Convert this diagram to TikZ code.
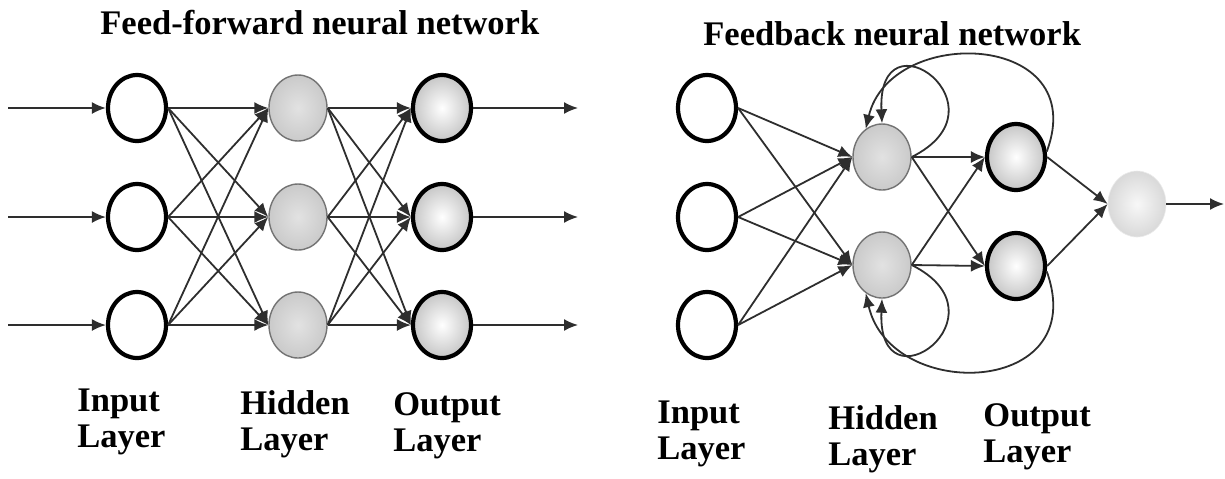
\documentclass[tikz,border=0pt]{standalone}
\usepackage{fontspec}
\setmainfont{Liberation Serif}
\usetikzlibrary{shapes.geometric, arrows.meta}
\definecolor{edgeGray}{HTML}{2E2E2E}
\definecolor{hiddenInner}{HTML}{E2E2E2}
\definecolor{hiddenOuter}{HTML}{CACACA}
\definecolor{outputOuter}{HTML}{C6C6C6}
\newcommand{\labelFont}{\fontsize{17.25pt}{18pt}\selectfont\bfseries}

\begin{document}
\begin{tikzpicture}[
        x=0.5pt, y=0.5pt,
        every node/.append style={inner sep=0pt},
        neuron/.style={ellipse, minimum width=29pt, minimum height=33pt},
        input neuron/.style={neuron, draw=black, line width=2.1pt, fill=white},
        hidden neuron/.style={neuron, draw=black!55, line width=0.7pt, inner color=hiddenInner, outer color=hiddenOuter},
        output neuron/.style={neuron, draw=black, line width=2.1pt, inner color=white, outer color=outputOuter},
        final neuron/.style={neuron, draw=black!8, line width=0.3pt, inner color=black!3, outer color=black!15},
        link/.style={draw=edgeGray, line width=0.9pt, -{Latex[length=7pt, width=6pt]}},
        caption/.style={font=\labelFont, align=left, anchor=north west},
        title/.style={font=\labelFont, anchor=north west}
    ]
    \useasboundingbox (0,0) rectangle (1225,-478);

    % feed-forward network
    \node[title] (fftitle) at (100,-10) {Feed-forward neural network};
    \foreach \row/\y in {1/-108, 2/-217, 3/-325} {
        \node[input neuron] (fi\row) at (137,\y) {};
        \node[hidden neuron] (fh\row) at (298,\y) {};
        \node[output neuron] (fo\row) at (442,\y) {};
        \coordinate (fin\row) at (8,\y);
        \coordinate (fout\row) at (578,\y);
    }
    \foreach \i in {1,2,3} {
        \draw[link] (fin\i) -- (fi\i);
        \draw[link] (fo\i) -- (fout\i);
        \foreach \j in {1,2,3} {
            \draw[link] (fi\i.east) -- (fh\j.west);
            \draw[link] (fh\i.east) -- (fo\j.west);
        }
    }
    \node[caption] (ffinput) at (77,-388) {Input\\Layer};
    \node[caption] (ffhidden) at (240,-390) {Hidden\\Layer};
    \node[caption] (ffoutput) at (393,-392) {Output\\Layer};

    % feedback network
    \node[title] (fbtitle) at (703,-21) {Feedback neural network};
    \foreach \row/\y in {1/-108, 2/-217, 3/-325}
        \node[input neuron] (bi\row) at (707,\y) {};
    \node[hidden neuron] (bh1) at (882,-157) {};
    \node[hidden neuron] (bh2) at (882,-265) {};
    \node[output neuron] (bo1) at (1016,-157) {};
    \node[output neuron] (bo2) at (1016,-266) {};
    \node[final neuron] (bf) at (1137,-204) {};
    \coordinate (bout) at (1224,-204);

    \foreach \i in {1,2,3}
        \foreach \j in {1,2}
            \draw[link] (bi\i.east) -- (bh\j.west);
    \foreach \i in {1,2} {
        \foreach \j in {1,2}
            \draw[link] (bh\i.east) -- (bo\j.west);
        \draw[link] (bo\i.east) -- (bf.west);
    }
    \draw[link] (bf) -- (bout);

    % loops back into the hidden layer
    \draw[link] (bh1.east) .. controls +(100,50) and +(-5,115) .. (bh1.north);
    \draw[link] (bh2.east) .. controls +(100,-50) and +(-5,-115) .. (bh2.south);
    \draw[link] (bo1.10) .. controls +(45,120) and +(25,105) .. (bh1.120);
    \draw[link] (bo2.-10) .. controls +(45,-125) and +(25,-110) .. (bh2.240);

    \node[caption] (fbinput) at (657,-400) {Input\\Layer};
    \node[caption] (fbhidden) at (828,-405) {Hidden\\Layer};
    \node[caption] (fboutput) at (983,-403) {Output\\Layer};
\end{tikzpicture}
\end{document}
